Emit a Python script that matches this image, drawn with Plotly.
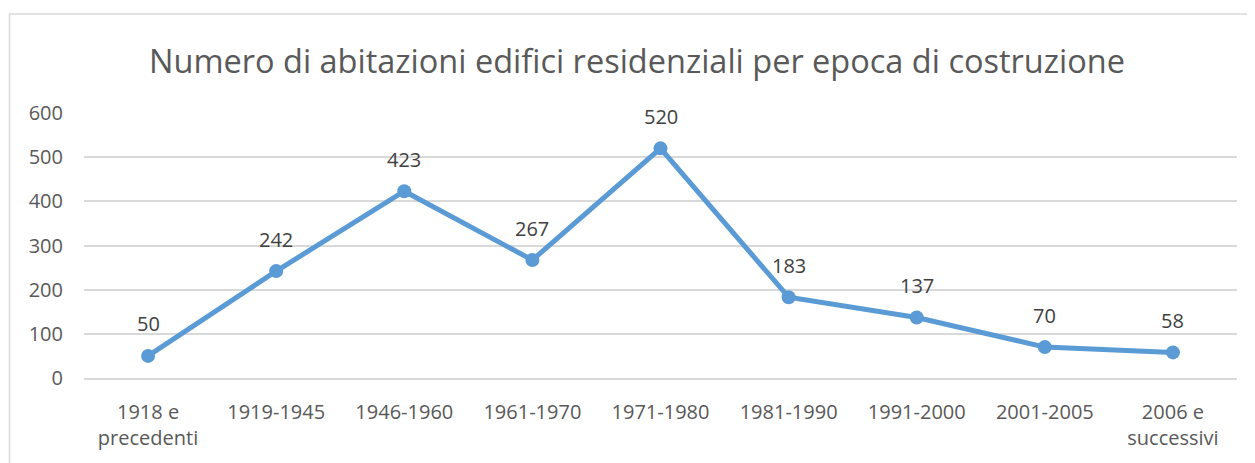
import plotly.graph_objects as go

categories = ["1918 e<br>precedenti", "1919-1945", "1946-1960", "1961-1970", "1971-1980",
              "1981-1990", "1991-2000", "2001-2005", "2006 e<br>successivi"]
values = [50, 242, 423, 267, 520, 183, 137, 70, 58]
y_ticks = [0, 100, 200, 300, 400, 500, 600]
title_text = "Numero di abitazioni edifici residenziali per epoca di costruzione"

OFF = 8  # default page body margin
W, H = 1255 - OFF, 463 - OFF
# plot area in page pixels: left 84, right 1237, top 113, bottom 378
L = 84 - OFF
T = 113 - OFF
R = W - (1237 - OFF)
B = H - (378 - OFF)
pw, ph = W - L - R, H - T - B

def px_x(p):
    return (p - OFF - L) / pw

def px_y(p):
    return (H - B - (p - OFF)) / ph

FONT = "Open Sans"
LINE = "#5B9BD5"
TXT = "#595959"

fig = go.Figure()
fig.add_trace(go.Scatter(
    x=categories, y=values, mode="lines+markers",
    line=dict(color=LINE, width=5),
    marker=dict(color=LINE, size=14),
    hoverinfo="x+y", showlegend=False,
))

for c, v in zip(categories, values):
    fig.add_annotation(x=c, y=v, text=str(v), showarrow=False, yshift=32,
                       font=dict(family=FONT, size=20, color="#404040"))

fig.add_shape(type="rect", xref="paper", yref="paper",
              x0=px_x(9.5), x1=px_x(1275), y0=px_y(14), y1=px_y(490),
              line=dict(color="#D9D9D9", width=1.5), layer="below")

fig.update_layout(
    width=W, height=H,
    margin=dict(l=L, r=R, t=T, b=B, autoexpand=False),
    paper_bgcolor="white", plot_bgcolor="white",
    title=dict(text=title_text, x=(637 - OFF) / W, xanchor="center", y=1 - (62 - OFF) / H,
               yanchor="middle", font=dict(family=FONT, size=32.5, color=TXT)),
    font=dict(family=FONT, color=TXT),
    xaxis=dict(type="category", showgrid=False, showline=True, linecolor="#D9D9D9", linewidth=1.5,
               ticks="", tickfont=dict(family=FONT, size=20, color=TXT), ticklabelstandoff=15,
               range=[-0.5, len(categories) - 0.5], fixedrange=True),
    yaxis=dict(range=[0, 600], tickvals=y_ticks, showgrid=True, gridcolor="#D9D9D9", gridwidth=1.5,
               zeroline=False, showline=False, ticks="",
               tickfont=dict(family=FONT, size=20, color=TXT), ticklabelstandoff=20,
               fixedrange=True),
)

fig.write_html("out.html")
